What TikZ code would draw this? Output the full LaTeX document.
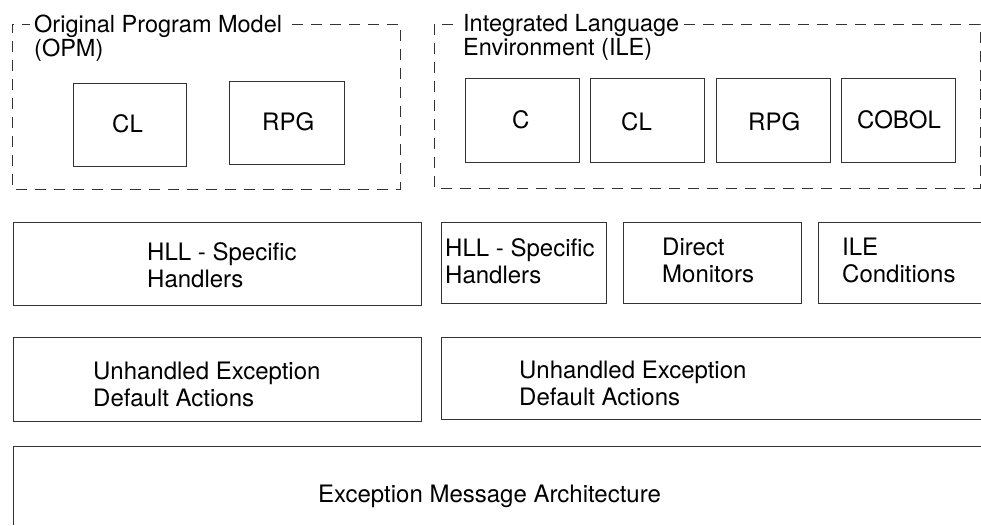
\documentclass[tikz,border=0pt]{standalone}
\usepackage{fontspec}
\setmainfont{TeX Gyre Heros}
\newcommand\twoline[1]{\begin{tabular}[t]{@{}l@{}}#1\end{tabular}}
\begin{document}
\begin{tikzpicture}[x=1pt,y=-1pt,
  ln/.style={draw=black!80, line width=1pt},
  dsh/.style={ln, dash pattern=on 11pt off 8pt},
  box/.style={ln, rectangle, inner sep=0pt, outer sep=0pt},
  lbl/.style={inner sep=0pt, anchor=base west, font=\fontsize{24}{27}\selectfont},
  ttl/.style={inner sep=0pt, anchor=base west, font=\fontsize{23.5}{24.5}\selectfont}]
\useasboundingbox (0,0) rectangle (981,525);

% ---- OPM group
\draw[dsh] (292,24) -- (400,24) -- (400,189) -- (12,189) -- (12,24) -- (30,24);
\node[ttl] (opmt) at (34,32) {\twoline{Original Program Model\\(OPM)}};
\node[box, minimum width=113pt, minimum height=83pt] (opmcl) at (129.5,124.5) {};
\node[box, minimum width=115pt, minimum height=83pt] (opmrpg) at (286.5,122.5) {};
\node[lbl] (opmclt) at (112,132) {CL};
\node[lbl] (opmrpgt) at (262,130) {RPG};

% ---- ILE group
\draw[dsh] (684,24) -- (980,24) -- (980,188) -- (434,188) -- (434,24) -- (458,24);
\node[ttl] (ilet) at (463,31) {\twoline{Integrated Language\\Environment (ILE)}};
\node[box, minimum width=114pt, minimum height=84pt] (ilec) at (522,120.5) {};
\node[box, minimum width=114pt, minimum height=84pt] (ilecl) at (647,120.5) {};
\node[box, minimum width=114pt, minimum height=84pt] (ilerpg) at (773.5,120.5) {};
\node[box, minimum width=114pt, minimum height=84pt] (ilecob) at (898,120.5) {};
\node[lbl] (ilect) at (512,128) {C};
\node[lbl] (ileclt) at (621,130) {CL};
\node[lbl] (ilerpgt) at (748,130) {RPG};
\node[lbl] (ilecobt) at (857,128) {COBOL};

% ---- row 2
\node[box, minimum width=408pt, minimum height=83pt] (hll1) at (217,263.5) {};
\node[lbl] (hll1t) at (147,260) {\twoline{HLL - Specific\\Handlers}};
\node[box, minimum width=165pt, minimum height=81pt] (hll2) at (523.5,262.5) {};
\node[lbl] (hll2t) at (445,256) {\twoline{HLL - Specific\\Handlers}};
\node[box, minimum width=178pt, minimum height=81pt] (dm) at (712.5,262.5) {};
\node[lbl] (dmt) at (662,255) {\twoline{Direct\\Monitors}};
\draw[ln] (981,222) coordinate (ilec1) -- (818,222) -- (818,303) -- (981,303) coordinate (ilec2);
\node[lbl] (ilecondt) at (842,255) {\twoline{ILE\\Conditions}};

% ---- row 3
\node[box, minimum width=408pt, minimum height=84pt] (ued1) at (217,379) {};
\node[lbl] (ued1t) at (93,379) {\twoline{Unhandled Exception\\Default Actions}};
\draw[ln] (981,337) coordinate (ued2a) -- (441,337) -- (441,419) -- (981,419) coordinate (ued2b);
\node[lbl] (ued2t) at (519,378) {\twoline{Unhandled Exception\\Default Actions}};

% ---- row 4
\draw[ln] (981,446) coordinate (ema1) -- (13,446) -- (13,525) coordinate (ema2);
\node[lbl] (emat) at (318,502) {Exception Message Architecture};
\end{tikzpicture}
\end{document}
